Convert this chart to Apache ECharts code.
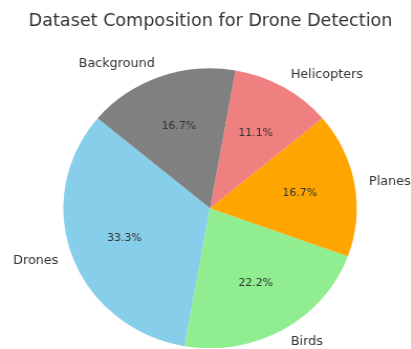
<!DOCTYPE html>
<html>
<head>
<meta charset="utf-8">
<script src="https://cdn.jsdelivr.net/npm/echarts@6/dist/echarts.min.js"></script>
<style>
  html, body { margin: 0; padding: 0; background: #fff; overflow: hidden; }
  #wrap { width: 411px; height: 349px; overflow: hidden; }
  /* the figure is slightly wider than tall, so the chart is stretched horizontally */
  #chart { width: 392px; height: 349px; transform: scaleX(1.048); transform-origin: 0 0; }
</style>
</head>
<body>
<div id="wrap"><div id="chart"></div></div>
<script>
const titleText = 'Dataset Composition for Drone Detection';
const categories = ['Drones', 'Birds', 'Planes', 'Helicopters', 'Background'];
const counts = [3000, 2000, 1500, 1000, 1500];
const colors = ['#87CEEB', '#90EE90', '#FFA500', '#F08080', '#808080'];

const FONT = '"DejaVu Sans", sans-serif';
const R = 140;            // pie radius
const CENTER = [200.4, 208.3];

const chart = echarts.init(document.getElementById('chart'), null, { renderer: 'canvas' });

const slices = categories.map((name, i) => ({
  name: name,
  value: counts[i],
  itemStyle: { color: colors[i] }
}));

chart.setOption({
  animation: false,
  backgroundColor: '#ffffff',
  title: {
    text: titleText,
    left: 200.9,
    textAlign: 'center',
    top: 12,
    padding: 0,
    textStyle: {
      fontFamily: FONT,
      fontSize: 16.8,
      fontWeight: 'normal',
      color: '#333333',
      lineHeight: 20
    }
  },
  series: [
    {
      // wedges with category names just outside the rim
      type: 'pie',
      center: CENTER,
      radius: [0, R],
      startAngle: 140,
      clockwise: false,
      avoidLabelOverlap: false,
      silent: true,
      percentPrecision: 1,
      itemStyle: { borderWidth: 0 },
      label: {
        show: true,
        position: 'outside',
        formatter: '{b}',
        fontFamily: FONT,
        fontSize: 12.2,
        color: '#333333',
        distanceToLabelLine: 0
      },
      labelLine: { show: false, length: R * 0.1, length2: 0 },
      emphasis: { disabled: true },
      data: slices
    },
    {
      // invisible companion ring that places percentages at 0.6 of the radius
      type: 'pie',
      center: CENTER,
      radius: [0, R * 1.2],
      startAngle: 140,
      clockwise: false,
      avoidLabelOverlap: false,
      silent: true,
      percentPrecision: 1,
      itemStyle: { color: 'rgba(0,0,0,0)', borderWidth: 0 },
      label: {
        show: true,
        position: 'inside',
        formatter: '{d}%',
        fontFamily: FONT,
        fontSize: 10.4,
        color: '#333333'
      },
      labelLine: { show: false },
      emphasis: { disabled: true },
      data: categories.map((name, i) => ({ name: name, value: counts[i] }))
    }
  ]
});
</script>
</body>
</html>
